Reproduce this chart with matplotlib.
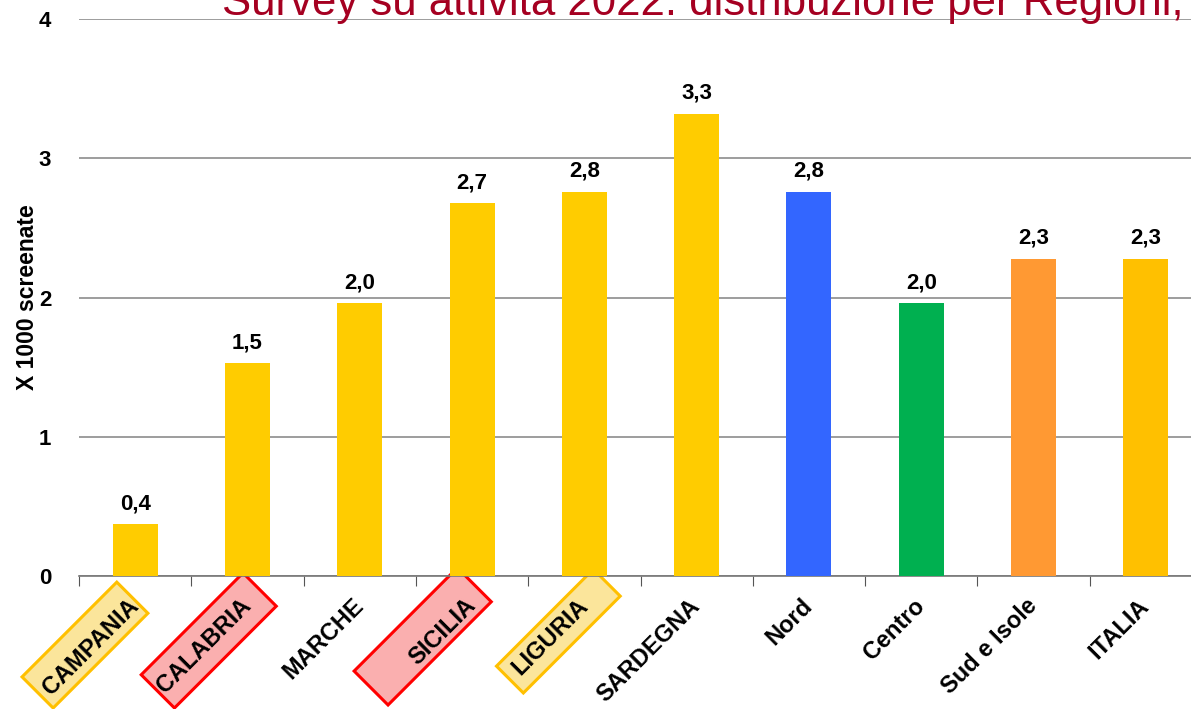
import numpy as np
import matplotlib.pyplot as plt
from matplotlib.patches import Rectangle
from matplotlib.transforms import Affine2D, ScaledTranslation

# data
regions = ["CAMPANIA", "CALABRIA", "MARCHE", "SICILIA", "LIGURIA",
           "SARDEGNA", "Nord", "Centro", "Sud e Isole", "ITALIA"]
values = [0.37, 1.53, 1.96, 2.68, 2.76, 3.32, 2.76, 1.96, 2.28, 2.28]
value_labels = ["0,4", "1,5", "2,0", "2,7", "2,8", "3,3", "2,8", "2,0", "2,3", "2,3"]
bar_colors = ["#FFCC00"] * 6 + ["#3366FF", "#00B050", "#FF9933", "#FFC000"]
yticks = [0, 1, 2, 3, 4]

# highlighted labels: (index, face, edge, box in px relative to tick at y=0)
boxes = [
    (0, "#FBE59B", "#FFC000", (-82, -132, 134, 44)),
    (1, "#FAAFAF", "#FF0000", (-73, -132, 144, 47)),
    (3, "#FAAFAF", "#FF0000", (-84, -129, 146, 48)),
    (4, "#FBE59B", "#FFC000", (-61, -117, 137, 38)),
]

fig = plt.figure(figsize=(11.91, 7.09), dpi=100)
ax = fig.add_axes([79 / 1191, 133 / 709, 1123 / 1191, 557 / 709])

x = np.arange(len(regions))
ax.bar(x, values, width=0.4, color=bar_colors, zorder=3)
for xi, v, lab in zip(x, values, value_labels):
    ax.annotate(lab, (xi, v), xytext=(0, 7), textcoords="offset points",
                ha="center", va="bottom", fontsize=16, fontweight="bold",
                family="Liberation Sans")

ax.set_xlim(-0.5, len(regions) - 0.5)
ax.set_ylim(0, 4)
ax.set_yticks(yticks)
ax.set_yticklabels([str(t) for t in yticks], fontsize=16, fontweight="bold",
                   family="Liberation Sans")
ax.tick_params(axis="y", length=0, pad=20)
ax.yaxis.grid(True, color="#8C8C8C", linewidth=1.2, zorder=0)
ax.set_axisbelow(True)

ax.set_xticks(np.arange(len(regions) + 1) - 0.5, minor=False)
ax.set_xticklabels([])
ax.tick_params(axis="x", which="major", length=7, direction="out", color="#555555")
ax.set_xticks(x, minor=True)
ax.set_xticklabels(regions, minor=True, rotation=45, ha="right", va="center",
                   rotation_mode="anchor", fontsize=17, fontweight="bold",
                   family="Liberation Sans")
ax.tick_params(axis="x", which="minor", length=0, pad=19)

for side in ["left", "right", "top"]:
    ax.spines[side].set_visible(False)
ax.spines["bottom"].set_color("#777777")
ax.spines["bottom"].set_linewidth(1.2)

ax.set_ylabel("X 1000 screenate", fontsize=16.5, fontweight="bold",
              family="Liberation Sans", labelpad=0)

# coloured frames behind some region names
px = fig.dpi / 100
for idx, face, edge, (bx, by, bw, bh) in boxes:
    tr = Affine2D().scale(px) + ScaledTranslation(idx, 0, ax.transData)
    rect = Rectangle((bx, by), bw, bh, angle=45, transform=tr,
                     facecolor=face, edgecolor=edge, linewidth=2.2,
                     clip_on=False, zorder=0.2)
    ax.add_patch(rect)

fig.text(222 / 1191, (709 - 15) / 709,
         "Survey su attività 2022: distribuzione per Regioni,",
         color="#A50021", fontsize=31.5, ha="left", va="baseline",
         family="Liberation Sans")

fig.savefig("out.png", dpi=100)
